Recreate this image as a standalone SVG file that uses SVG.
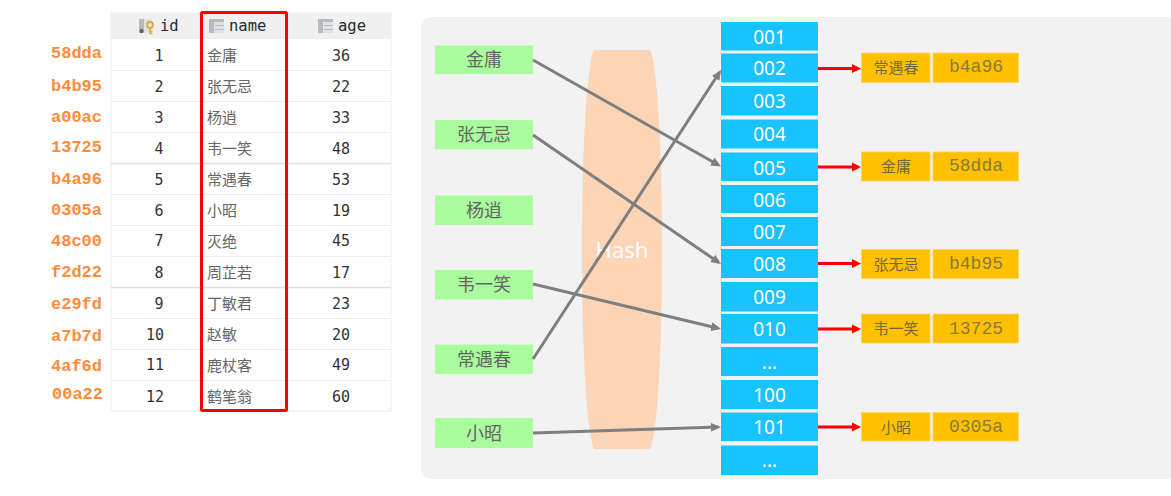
<svg xmlns="http://www.w3.org/2000/svg" width="1171" height="496" viewBox="0 0 1171 496">
<style>
text{font-family:"Noto Sans CJK SC","Noto Sans",sans-serif}
.hash text{font-family:"Liberation Mono",monospace;font-weight:700;font-size:17px;fill:#ff8b3d}
.hd{font-size:15.500px;fill:#2b2b2b}
text.hd{font-family:"DejaVu Sans Mono",monospace}
.num text{font-family:"DejaVu Sans Mono",monospace;font-size:15px;fill:#333;text-anchor:middle}
.nm text{font-size:15px;fill:#666}
.sep{stroke:#ebebeb;stroke-width:1.2}
.sepb{stroke:#e0e0e0;stroke-width:1.6}
.g{fill:#a9fd9d}
.gt{font-size:18px;fill:#666;text-anchor:middle}
.b{fill:#19c3ff}
text.bt{font-family:"Noto Sans",sans-serif;font-size:19px;fill:#fff;text-anchor:middle}
.o{fill:#ffc000;stroke:#ffd35c;stroke-width:.8}
.ot{font-size:15px;fill:#76693c;text-anchor:middle}
text.oc{font-family:"Liberation Mono",monospace;font-size:18px;fill:#8a7a3c;text-anchor:middle}
.ga{stroke:#7f7f7f;stroke-width:3;fill:none;marker-end:url(#ga)}
.ra{stroke:#f00;stroke-width:3;fill:none;marker-end:url(#ra)}
.ic1{fill:#b4bcc2}.ic2{fill:#dfe3e6}
</style>
<defs>
<marker id="ga" markerUnits="userSpaceOnUse" markerWidth="12" markerHeight="10" refX="7" refY="5" orient="auto"><path d="M0 .5L10 5L0 9.500z" fill="#7f7f7f"/></marker>
<marker id="ra" markerUnits="userSpaceOnUse" markerWidth="12" markerHeight="10" refX="6" refY="5" orient="auto"><path d="M0 .5L9 5L0 9.500z" fill="#f00"/></marker>
<g id="tblicon"><rect x="0" y="0" width="15" height="14" class="ic2"/><rect x="0" y="0" width="5" height="14" class="ic1"/><rect x="0" y="0" width="15" height="3" class="ic1"/><path d="M6 6.500h9M6 10.500h9" stroke="#b4bcc2" stroke-width="1"/></g>
</defs>
<rect x="0" y="0" width="1171" height="496" fill="#fff"/>

<g id="table">
<rect x="111" y="13" width="280" height="398" fill="#fff" stroke="#ededed"/>
<rect x="111" y="13" width="280" height="26" fill="#f0f0f0"/>
<g id="icon-id"><rect x="139" y="19" width="13" height="14" class="ic2"/><rect x="139" y="19" width="5" height="10" class="ic1"/><circle cx="141.500" cy="31" r="2.300" fill="#666"/><circle cx="150" cy="25" r="3" fill="none" stroke="#e5a83b" stroke-width="1.800"/><path d="M150 28v6M150 31h2.500M150 33.500h2.500" stroke="#e5a83b" stroke-width="1.500"/></g>
<text class="hd" x="160" y="31">id</text>
<use href="#tblicon" x="209" y="19"/>
<text class="hd" x="229" y="31">name</text>
<use href="#tblicon" x="318" y="19"/>
<text class="hd" x="338" y="31">age</text>
<path class="sep" d="M111 70.500H391M111 101.500H391M111 132.500H391M111 194.500H391M111 225.500H391M111 256.500H391M111 318.500H391M111 349.500H391M111 380.500H391"/>
<path class="sepb" d="M111 163.500H391M111 287.500H391"/>
<g class="num">
<text x="159" y="61">1</text><text x="159" y="92">2</text><text x="159" y="123">3</text><text x="159" y="154">4</text><text x="159" y="185">5</text><text x="159" y="216">6</text><text x="159" y="246">7</text><text x="159" y="278">8</text><text x="159" y="309">9</text><text x="155" y="340">10</text><text x="155" y="370">11</text><text x="155" y="402">12</text>
<text x="341" y="61">36</text><text x="341" y="92">22</text><text x="341" y="123">33</text><text x="341" y="154">48</text><text x="341" y="185">53</text><text x="341" y="216">19</text><text x="341" y="246">45</text><text x="341" y="278">17</text><text x="341" y="309">23</text><text x="341" y="340">20</text><text x="341" y="370">49</text><text x="341" y="402">60</text>
</g>
<g class="nm">
<text x="207" y="61">金庸</text><text x="207" y="92">张无忌</text><text x="207" y="123">杨逍</text><text x="207" y="154">韦一笑</text><text x="207" y="185">常遇春</text><text x="207" y="216">小昭</text><text x="207" y="247">灭绝</text><text x="207" y="278">周芷若</text><text x="207" y="309">丁敏君</text><text x="207" y="340">赵敏</text><text x="207" y="371">鹿杖客</text><text x="207" y="402">鹤笔翁</text>
</g>
<rect id="name-highlight" x="201.500" y="12.500" width="85" height="398" rx="1" fill="none" stroke="#f00" stroke-width="3"/>
</g>

<g id="row-hashes" class="hash">
<text x="51" y="58">58dda</text><text x="51" y="91">b4b95</text><text x="51" y="122">a00ac</text><text x="51" y="152">13725</text><text x="51" y="184">b4a96</text><text x="51" y="215">0305a</text><text x="51" y="246">48c00</text><text x="51" y="277">f2d22</text><text x="51" y="309">e29fd</text><text x="51" y="341">a7b7d</text><text x="51" y="371">4af6d</text><text x="52" y="399">00a22</text>
</g>

<path id="panel" d="M1171 17H431a10 10 0 0 0-10 10V469a10 10 0 0 0 10 10H1171z" fill="#f2f2f2"/>

<g id="hash-function">
<path d="M594 50H650C656 62 662 130 662 250C662 370 656 437 650 449H594C588 437 582 370 582 250C582 130 588 62 594 50Z" fill="#fbd5b5"/>
<text x="622" y="258" font-size="22" fill="#fff" text-anchor="middle" style="font-family:'Noto Sans',sans-serif">Hash</text>
</g>

<g id="key-jinyong"><rect class="g" x="435" y="45.500" width="98" height="28.500"/><text class="gt" x="484" y="66">金庸</text></g>
<g id="key-zhangwuji"><rect class="g" x="435" y="120" width="98" height="29.500"/><text class="gt" x="484" y="141">张无忌</text></g>
<g id="key-yangxiao"><rect class="g" x="435" y="195.500" width="98" height="29.500"/><text class="gt" x="484" y="216.500">杨逍</text></g>
<g id="key-weiyixiao"><rect class="g" x="435" y="270" width="98" height="29.500"/><text class="gt" x="484" y="291">韦一笑</text></g>
<g id="key-changyuchun"><rect class="g" x="435" y="344.500" width="98" height="29.500"/><text class="gt" x="484" y="365.500">常遇春</text></g>
<g id="key-xiaozhao"><rect class="g" x="435" y="418" width="98" height="30"/><text class="gt" x="484" y="439.500">小昭</text></g>

<g id="bucket-001"><rect class="b" x="721" y="22" width="97" height="28.500"/><text class="bt" x="769.500" y="43.500">001</text></g>
<g id="bucket-002"><rect class="b" x="721" y="53.500" width="97" height="29"/><text class="bt" x="769.500" y="75">002</text></g>
<g id="bucket-003"><rect class="b" x="721" y="86" width="97" height="29.500"/><text class="bt" x="769.500" y="108">003</text></g>
<g id="bucket-004"><rect class="b" x="721" y="119.500" width="97" height="29"/><text class="bt" x="769.500" y="141">004</text></g>
<g id="bucket-005"><rect class="b" x="721" y="152.500" width="97" height="28.500"/><text class="bt" x="769.500" y="174.500">005</text></g>
<g id="bucket-006"><rect class="b" x="721" y="185" width="97" height="28"/><text class="bt" x="769.500" y="206.500">006</text></g>
<g id="bucket-007"><rect class="b" x="721" y="217" width="97" height="29"/><text class="bt" x="769.500" y="238.500">007</text></g>
<g id="bucket-008"><rect class="b" x="721" y="249" width="97" height="29"/><text class="bt" x="769.500" y="270.500">008</text></g>
<g id="bucket-009"><rect class="b" x="721" y="282" width="97" height="29.500"/><text class="bt" x="769.500" y="303.500">009</text></g>
<g id="bucket-010"><rect class="b" x="721" y="314" width="97" height="29.500"/><text class="bt" x="769.500" y="336">010</text></g>
<g id="bucket-gap1"><rect class="b" x="721" y="347" width="97" height="29"/><text class="bt" x="769.500" y="369">...</text></g>
<g id="bucket-100"><rect class="b" x="721" y="380" width="97" height="29"/><text class="bt" x="769.500" y="402">100</text></g>
<g id="bucket-101"><rect class="b" x="721" y="412.500" width="97" height="28.500"/><text class="bt" x="769.500" y="434">101</text></g>
<g id="bucket-gap2"><rect class="b" x="721" y="445.500" width="97" height="29.500"/><text class="bt" x="769.500" y="467">...</text></g>

<g id="entry-changyuchun"><rect class="o" x="861.500" y="53" width="68.500" height="29.500"/><rect class="o" x="933" y="53" width="85.500" height="29.500"/><text class="ot" x="896" y="73">常遇春</text><text class="oc" x="976" y="72">b4a96</text></g>
<g id="entry-jinyong"><rect class="o" x="861.500" y="152" width="68.500" height="29"/><rect class="o" x="933" y="152" width="85.500" height="29"/><text class="ot" x="896" y="172">金庸</text><text class="oc" x="976" y="171">58dda</text></g>
<g id="entry-zhangwuji"><rect class="o" x="861.500" y="249.500" width="68.500" height="29"/><rect class="o" x="933" y="249.500" width="85.500" height="29"/><text class="ot" x="896" y="269.500">张无忌</text><text class="oc" x="976" y="269">b4b95</text></g>
<g id="entry-weiyixiao"><rect class="o" x="861.500" y="314" width="68.500" height="29"/><rect class="o" x="933" y="314" width="85.500" height="29"/><text class="ot" x="896" y="334">韦一笑</text><text class="oc" x="976" y="334">13725</text></g>
<g id="entry-xiaozhao"><rect class="o" x="861.500" y="412.500" width="68.500" height="28.500"/><rect class="o" x="933" y="412.500" width="85.500" height="28.500"/><text class="ot" x="896" y="432.500">小昭</text><text class="oc" x="976" y="432">0305a</text></g>

<g id="connectors">
<line class="ga" x1="533" y1="60" x2="718.400" y2="165"/>
<line class="ga" x1="533" y1="135" x2="718.500" y2="262.300"/>
<line class="ga" x1="533" y1="284" x2="718.100" y2="328.300"/>
<line class="ga" x1="533" y1="359" x2="719.400" y2="72.500"/>
<line class="ga" x1="533" y1="433" x2="718" y2="427.100"/>
<line class="ra" x1="818" y1="68.500" x2="858" y2="68.500"/>
<line class="ra" x1="818" y1="167" x2="858" y2="167"/>
<line class="ra" x1="818" y1="263.500" x2="858" y2="263.500"/>
<line class="ra" x1="818" y1="329" x2="858" y2="329"/>
<line class="ra" x1="818" y1="427" x2="858" y2="427"/>
</g>
</svg>
